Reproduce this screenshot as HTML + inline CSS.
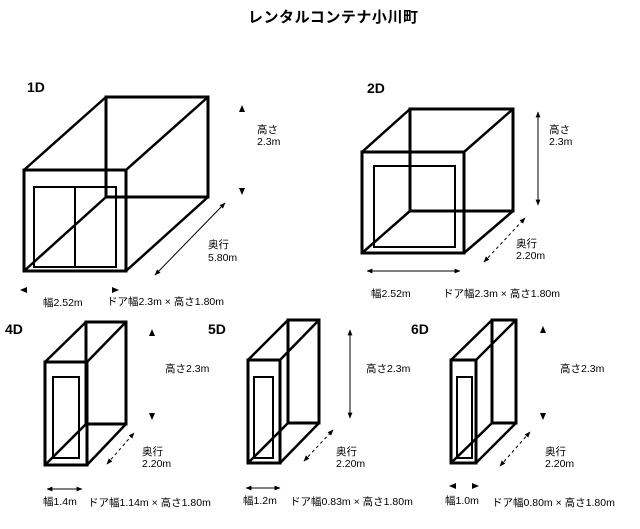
<!DOCTYPE html>
<html><head><meta charset="utf-8"><style>
html,body{margin:0;padding:0;background:#fff;}
svg{display:block;}
text{font-family:"Liberation Sans","Noto Sans CJK JP",sans-serif;font-size:10.5px;fill:#000;}
.t{font-weight:bold;font-size:15px;}
.h{font-weight:bold;font-size:14px;}
</style></head><body>
<svg width="640" height="529" viewBox="0 0 640 529" xmlns="http://www.w3.org/2000/svg">
<defs>
<marker id="a" viewBox="0 0 10 10" refX="9" refY="5" markerWidth="6" markerHeight="6" orient="auto-start-reverse"><path d="M0,1 L10,5 L0,9 z" fill="#000"/></marker>
</defs>
<text class="t" x="248" y="22" textLength="170">レンタルコンテナ小川町</text>

<!-- 1D -->
<text class="h" x="27" y="92">1D</text>
<g fill="none" stroke="#000">
<rect x="106" y="97" width="102" height="100" stroke-width="3"/>
<rect x="24" y="170" width="102" height="101" stroke-width="3"/>
<g stroke-width="2.5"><line x1="24" y1="170" x2="106" y2="97"/><line x1="126" y1="170" x2="208" y2="97"/><line x1="126" y1="271" x2="208" y2="197"/><line x1="24" y1="271" x2="106" y2="197"/></g>
<rect x="34" y="187" width="82" height="80" stroke-width="2"/>
<line x1="75" y1="187" x2="75" y2="267" stroke-width="2"/>
<line x1="155" y1="275" x2="225" y2="203" stroke-width="1" marker-start="url(#a)" marker-end="url(#a)"/>
</g>
<path d="M239,112 L242,105 L245,112z M239,188 L242,195 L245,188z M27,287 L20,290 L27,293z M112,287 L119,290 L112,293z" fill="#000"/>
<text x="257" y="133">高さ</text><text x="257" y="145">2.3m</text>
<text x="208" y="248">奥行</text><text x="208" y="261">5.80m</text>
<text x="43" y="306">幅2.52m</text><text x="107" y="305">ドア幅2.3m × 高さ1.80m</text>

<!-- 2D -->
<text class="h" x="367" y="93">2D</text>
<g fill="none" stroke="#000">
<rect x="410" y="109" width="103" height="102" stroke-width="3"/>
<rect x="362" y="152" width="102" height="101" stroke-width="3"/>
<g stroke-width="2.5"><line x1="362" y1="152" x2="410" y2="109"/><line x1="464" y1="152" x2="513" y2="109"/><line x1="464" y1="253" x2="513" y2="211"/><line x1="362" y1="253" x2="410" y2="211"/></g>
<rect x="374" y="166" width="81" height="81" stroke-width="2"/>
<line x1="538" y1="112" x2="538" y2="205" stroke-width="1" marker-start="url(#a)" marker-end="url(#a)"/>
<line x1="484" y1="262" x2="525" y2="218" stroke-width="1" stroke-dasharray="3,3" marker-start="url(#a)" marker-end="url(#a)"/>
<line x1="367" y1="271" x2="460" y2="271" stroke-width="1" marker-start="url(#a)" marker-end="url(#a)"/>
</g>
<text x="549" y="133">高さ</text><text x="549" y="145">2.3m</text>
<text x="516" y="247">奥行</text><text x="516" y="259">2.20m</text>
<text x="371" y="297">幅2.52m</text><text x="443" y="297">ドア幅2.3m × 高さ1.80m</text>

<!-- 4D -->
<text class="h" x="5" y="334">4D</text>
<g fill="none" stroke="#000">
<rect x="86" y="322" width="40" height="102" stroke-width="3"/>
<rect x="45" y="362" width="42" height="103" stroke-width="3"/>
<g stroke-width="2.5"><line x1="45" y1="362" x2="86" y2="322"/><line x1="87" y1="362" x2="126" y2="322"/><line x1="87" y1="465" x2="126" y2="424"/><line x1="45" y1="465" x2="86" y2="424"/></g>
<rect x="53" y="377" width="26" height="81" stroke-width="2"/>
<line x1="107" y1="464" x2="134" y2="433" stroke-width="1" stroke-dasharray="3,3" marker-start="url(#a)" marker-end="url(#a)"/>
<line x1="47" y1="489" x2="82" y2="489" stroke-width="1" marker-start="url(#a)" marker-end="url(#a)"/>
</g>
<path d="M149,336 L152,329 L155,336z M149,413 L152,420 L155,413z" fill="#000"/>
<text x="165" y="372">高さ2.3m</text>
<text x="142" y="455">奥行</text><text x="142" y="467">2.20m</text>
<text x="43" y="505">幅1.4m</text><text x="88" y="506">ドア幅1.14m × 高さ1.80m</text>

<!-- 5D -->
<text class="h" x="208" y="334">5D</text>
<g fill="none" stroke="#000">
<rect x="288" y="320" width="31" height="103" stroke-width="3"/>
<rect x="248" y="360" width="32" height="103" stroke-width="3"/>
<g stroke-width="2.5"><line x1="248" y1="360" x2="288" y2="320"/><line x1="280" y1="360" x2="319" y2="320"/><line x1="280" y1="463" x2="319" y2="423"/><line x1="248" y1="463" x2="288" y2="423"/></g>
<rect x="254" y="377" width="19" height="81" stroke-width="2"/>
<line x1="350" y1="330" x2="350" y2="418" stroke-width="1" marker-start="url(#a)" marker-end="url(#a)"/>
<line x1="304" y1="461" x2="333" y2="430" stroke-width="1" stroke-dasharray="3,3" marker-start="url(#a)" marker-end="url(#a)"/>
<line x1="246" y1="488" x2="280" y2="488" stroke-width="1" marker-start="url(#a)" marker-end="url(#a)"/>
</g>
<text x="366" y="372">高さ2.3m</text>
<text x="336" y="455">奥行</text><text x="336" y="467">2.20m</text>
<text x="243" y="504">幅1.2m</text><text x="290" y="505">ドア幅0.83m × 高さ1.80m</text>

<!-- 6D -->
<text class="h" x="411" y="334">6D</text>
<g fill="none" stroke="#000">
<rect x="492" y="320" width="24" height="103" stroke-width="3"/>
<rect x="451" y="360" width="25" height="103" stroke-width="3"/>
<g stroke-width="2.5"><line x1="451" y1="360" x2="492" y2="320"/><line x1="476" y1="360" x2="516" y2="320"/><line x1="476" y1="463" x2="516" y2="423"/><line x1="451" y1="463" x2="492" y2="423"/></g>
<rect x="457" y="377" width="15" height="81" stroke-width="2"/>
<line x1="500" y1="466" x2="530" y2="432" stroke-width="1" stroke-dasharray="3,3" marker-start="url(#a)" marker-end="url(#a)"/>
</g>
<path d="M540,333 L543,326 L546,333z M540,413 L543,420 L546,413z M456,483 L449,486 L456,489z M472,483 L479,486 L472,489z" fill="#000"/>
<text x="560" y="372">高さ2.3m</text>
<text x="545" y="455">奥行</text><text x="545" y="467">2.20m</text>
<text x="445" y="504">幅1.0m</text><text x="492" y="506">ドア幅0.80m × 高さ1.80m</text>
</svg>
</body></html>
